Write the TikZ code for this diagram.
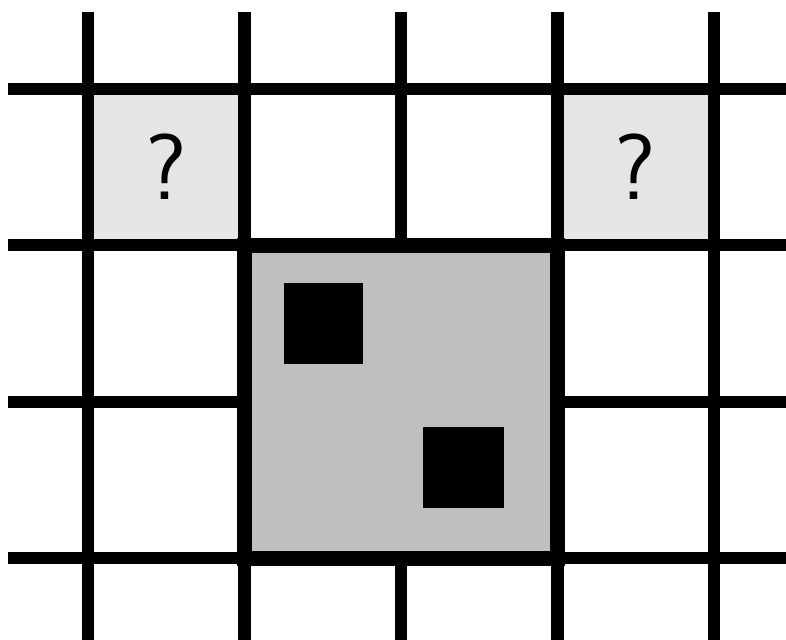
\documentclass[tikz,border=0pt]{standalone}
\usepackage{tikz}
\usetikzlibrary{positioning}

\begin{document}
\begin{tikzpicture}[x=2cm, y=2cm,
    gridline/.style={line width=4.4pt, black},
    blockline/.style={line width=5.4pt, black},
    unknown/.style={rectangle, fill=black!10, minimum size=2cm, inner sep=0pt,
                    font=\sffamily\fontsize{34}{34}\selectfont},
    stone/.style={fill=black}]

\useasboundingbox (-0.562,-0.518) rectangle (4.46,3.566);

% Unknown cells (top row)
\node[unknown] (qleft)  at (0.5, 2.5) {?};
\node[unknown] (qright) at (3.5, 2.5) {?};

% Merged 2x2 block
\fill[black!25] (1, 0) rectangle (3, 2);

% Vertical grid lines
\foreach \x in {0, 1, 3, 4}
  \draw[gridline] (\x, -0.6) -- (\x, 3.49);
\draw[gridline] (2, 2) -- (2, 3.49);
\draw[gridline] (2, 0) -- (2, -0.6);

% Horizontal grid lines
\foreach \y in {0, 2, 3}
  \draw[gridline] (-0.511, \y) -- (4.6, \y);
\draw[gridline] (-0.511, 1) -- (1, 1);
\draw[gridline] (3, 1) -- (4.6, 1);

% Block outline
\draw[blockline] (1, 0) rectangle (3, 2);

% Stones inside the block
\fill[stone] (1.25, 1.24) rectangle (1.76, 1.76);
\fill[stone] (2.14, 0.32) rectangle (2.66, 0.84);

\end{tikzpicture}
\end{document}
